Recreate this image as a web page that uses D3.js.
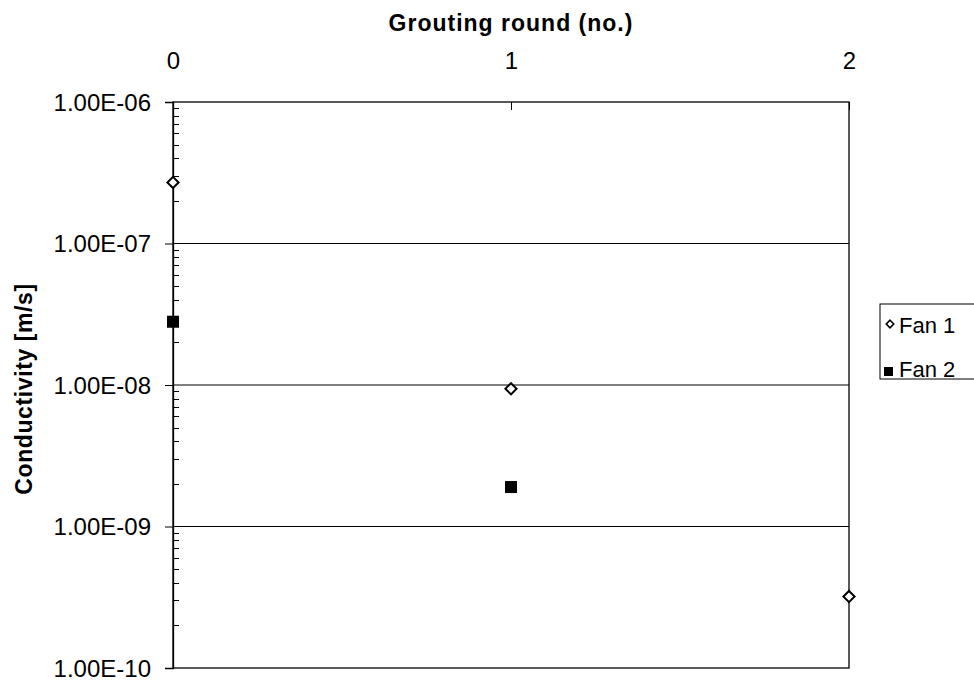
<!DOCTYPE html>
<html>
<head>
<meta charset="utf-8">
<script src="https://cdn.jsdelivr.net/npm/d3@7"></script>
<style>
  html, body { margin: 0; padding: 0; background: #fff; }
  svg { display: block; font-family: Arial, "Liberation Sans", sans-serif; }
</style>
</head>
<body>
<svg id="chart" width="974" height="680"></svg>
<script>
// Grouting rounds and measured conductivity per fan (m/s)
const rounds = [0, 1, 2];
const fan1 = [2.7e-7, 9.4e-9, 3.2e-10];
const fan2 = [2.8e-8, 1.9e-9, null];
const seriesNames = ["Fan 1", "Fan 2"];
const yTickValues = [1e-10, 1e-9, 1e-8, 1e-7, 1e-6];

const FONT = "Arial, 'Liberation Sans', sans-serif";
const svg = d3.select("#chart");
const plotL = 173, plotR = 849, plotT = 102, plotB = 668;

const x = d3.scaleLinear().domain([0, 2]).range([plotL, plotR]);
const y = d3.scaleLog().domain([1e-10, 1e-6]).range([plotB, plotT]);

// "1.00E-06" style labels
const sci = v => {
  const e = Math.round(Math.log10(v));
  const s = e < 0 ? "-" : "+";
  return "1.00E" + s + String(Math.abs(e)).padStart(2, "0");
};

// horizontal gridlines at each decade
svg.append("g")
  .selectAll("line")
  .data(yTickValues.slice(1, -1))
  .join("line")
  .attr("x1", plotL).attr("x2", plotR)
  .attr("y1", d => y(d)).attr("y2", d => y(d))
  .attr("stroke", "#000").attr("stroke-width", 1);

// plot frame
svg.append("rect")
  .attr("x", plotL).attr("y", plotT)
  .attr("width", plotR - plotL).attr("height", plotB - plotT)
  .attr("fill", "none").attr("stroke", "#000").attr("stroke-width", 1.3);

// minor ticks (2..9 of each decade), pointing inward
const minor = [];
for (let e = -10; e < -6; e++) for (let m = 2; m <= 9; m++) minor.push(m * Math.pow(10, e));
svg.append("g")
  .selectAll("line")
  .data(minor)
  .join("line")
  .attr("x1", plotL).attr("x2", plotL + 6)
  .attr("y1", d => Math.round(y(d)) + 0.5).attr("y2", d => Math.round(y(d)) + 0.5)
  .attr("stroke", "#000").attr("stroke-width", 1);

// left axis: major ticks outward with labels
const yAxis = d3.axisLeft(y).tickValues(yTickValues).tickFormat(sci).tickSize(8).tickPadding(14);
const gy = svg.append("g").attr("transform", `translate(${plotL},0)`).call(yAxis);
gy.attr("font-size", null).attr("font-family", null);
gy.select(".domain").attr("stroke", "#000").attr("stroke-width", 1.3);
gy.selectAll(".tick line").attr("stroke", "#000");
gy.selectAll(".tick text").attr("font-size", 24).attr("fill", "#000")
  .attr("font-family", FONT).attr("dy", "0.34em");

// top axis: ticks inward, labels above
const xAxis = d3.axisTop(x).tickValues(rounds).tickFormat(d3.format("d")).tickSize(-8).tickPadding(33);
const gx = svg.append("g").attr("transform", `translate(0,${plotT})`).call(xAxis);
gx.attr("font-size", null).attr("font-family", null);
gx.select(".domain").remove();
gx.selectAll(".tick line").attr("stroke", "#000");
gx.selectAll(".tick text").attr("font-size", 24).attr("fill", "#000")
  .attr("font-family", FONT);

// axis titles
svg.append("text")
  .attr("x", (plotL + plotR) / 2).attr("y", 31)
  .attr("text-anchor", "middle")
  .attr("font-size", 23).attr("font-weight", "bold")
  .attr("letter-spacing", 1)
  .text("Grouting round (no.)");

svg.append("text")
  .attr("transform", `translate(32,${(plotT + plotB) / 2 + 4}) rotate(-90)`)
  .attr("text-anchor", "middle")
  .attr("font-size", 23).attr("font-weight", "bold")
  .attr("letter-spacing", 0.6)
  .text("Conductivity [m/s]");

// markers
const diamond = d3.symbol().type(d3.symbolDiamond2);
const pts1 = rounds.map((r, i) => ({ r, v: fan1[i] })).filter(d => d.v != null);
const pts2 = rounds.map((r, i) => ({ r, v: fan2[i] })).filter(d => d.v != null);

svg.append("g")
  .selectAll("path")
  .data(pts1)
  .join("path")
  .attr("d", diamond.size(80))
  .attr("transform", d => `translate(${x(d.r)},${y(d.v)})`)
  .attr("fill", "#fff").attr("stroke", "#000").attr("stroke-width", 2);

svg.append("g")
  .selectAll("rect")
  .data(pts2)
  .join("rect")
  .attr("x", d => x(d.r) - 6).attr("y", d => y(d.v) - 6)
  .attr("width", 12).attr("height", 12)
  .attr("fill", "#000");

// legend
const lg = svg.append("g").attr("transform", "translate(880,304)");
lg.append("rect")
  .attr("x", 0).attr("y", 0).attr("width", 140).attr("height", 75)
  .attr("fill", "#fff").attr("stroke", "#000").attr("stroke-width", 1);
lg.append("path")
  .attr("d", d3.symbol().type(d3.symbolDiamond2).size(36)())
  .attr("transform", "translate(10,20)")
  .attr("fill", "#fff").attr("stroke", "#000").attr("stroke-width", 1.6);
lg.append("rect")
  .attr("x", 4).attr("y", 63).attr("width", 9).attr("height", 9)
  .attr("fill", "#000");
lg.selectAll("text.lab")
  .data(seriesNames)
  .join("text")
  .attr("class", "lab")
  .attr("x", 19).attr("y", (d, i) => 29 + i * 44)
  .attr("font-size", 22)
  .text(d => d);
</script>
</body>
</html>
